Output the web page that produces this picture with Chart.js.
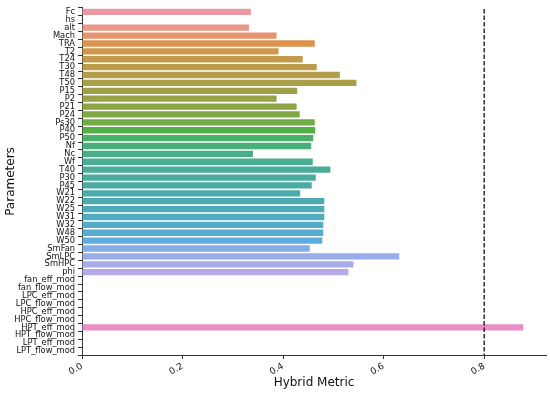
<!DOCTYPE html>
<html>
<head>
<meta charset="utf-8">
<script src="https://cdn.jsdelivr.net/npm/chart.js@4.4.1/dist/chart.umd.min.js"></script>
<style>
  html, body { margin: 0; padding: 0; background: #fff; }
</style>
</head>
<body>
<canvas id="chartBar" width="550" height="394"></canvas>
<script>
// parameter names (y categories)
var params = ['Fc', 'hs', 'alt', 'Mach', 'TRA', 'T2', 'T24', 'T30', 'T48', 'T50',
  'P15', 'P2', 'P21', 'P24', 'Ps30', 'P40', 'P50', 'Nf', 'Nc', 'Wf',
  'T40', 'P30', 'P45', 'W21', 'W22', 'W25', 'W31', 'W32', 'W48', 'W50',
  'SmFan', 'SmLPC', 'SmHPC', 'phi',
  'fan_eff_mod', 'fan_flow_mod', 'LPC_eff_mod', 'LPC_flow_mod', 'HPC_eff_mod', 'HPC_flow_mod',
  'HPT_eff_mod', 'HPT_flow_mod', 'LPT_eff_mod', 'LPT_flow_mod'];

// hybrid metric per parameter
var hybridMetric = [0.336, 0, 0.332, 0.387, 0.463, 0.391, 0.439, 0.467, 0.513, 0.546,
  0.428, 0.387, 0.427, 0.433, 0.463, 0.464, 0.460, 0.456, 0.340, 0.459,
  0.494, 0.465, 0.457, 0.434, 0.482, 0.482, 0.482, 0.480, 0.480, 0.478,
  0.453, 0.631, 0.540, 0.530,
  0, 0, 0, 0, 0, 0,
  0.878, 0, 0, 0];

var xTicks = [0.0, 0.2, 0.4, 0.6, 0.8];
var threshold = 0.8;
var xMax = 0.923;

// husl palette like seaborn (h=.01, s=.9, l=.7), then desaturated by .75
var M = [[3.2406, -1.5372, -0.4986], [-0.9689, 1.8758, 0.0415], [0.0557, -0.2040, 1.0570]];

function maxChroma(L, H) {
  var hrad = H / 360 * 2 * Math.PI;
  var sinH = Math.sin(hrad), cosH = Math.cos(hrad);
  var sub1 = Math.pow(L + 16, 3) / 1560896;
  var sub2 = sub1 > 0.008856 ? sub1 : L / 903.3;
  var result = Infinity;
  M.forEach(function (row) {
    var m1 = row[0], m2 = row[1], m3 = row[2];
    var top = (0.99915 * m1 + 1.05122 * m2 + 1.14460 * m3) * sub2;
    var rbottom = 0.86330 * m3 - 0.17266 * m2;
    var lbottom = 0.12949 * m3 - 0.38848 * m1;
    var bottom = (rbottom * sinH + lbottom * cosH) * sub2;
    [0, 1].forEach(function (t) {
      var C = L * (top - 1.05122 * t) / (bottom + 0.17266 * sinH * t);
      if (C > 0 && C < result) result = C;
    });
  });
  return result;
}

function huslToRgb(H, S, L) {
  var C = maxChroma(L, H) / 100 * S;
  var hrad = H / 360 * 2 * Math.PI;
  var U = Math.cos(hrad) * C, V = Math.sin(hrad) * C;
  var t = (L + 16) / 116;
  var varY = Math.pow(t, 3) > 0.008856 ? Math.pow(t, 3) : (116 * t - 16) / 903.3;
  var varU = U / (13 * L) + 0.19784;
  var varV = V / (13 * L) + 0.46834;
  var Y = varY;
  var X = 0 - (9 * Y * varU) / ((varU - 4) * varV - varU * varV);
  var Z = (9 * Y - 15 * varV * Y - varV * X) / (3 * varV);
  return M.map(function (row) {
    var c = row[0] * X + row[1] * Y + row[2] * Z;
    c = c <= 0.0031308 ? 12.92 * c : 1.055 * Math.pow(c, 1 / 2.4) - 0.055;
    return Math.min(1, Math.max(0, c));
  });
}

function barColors(n) {
  var out = [];
  for (var i = 0; i < n; i++) {
    var h = ((i / n + 0.01) % 1) * 359;
    var rgb = huslToRgb(h, 0.9 * 99, 0.7 * 99);
    var l = (Math.max.apply(null, rgb) + Math.min.apply(null, rgb)) / 2;
    rgb = rgb.map(function (c) { return Math.round((l + (c - l) * 0.75) * 255); });
    out.push('rgb(' + rgb.join(',') + ')');
  }
  return out;
}

// dashed threshold line
var thresholdLine = {
  id: 'thresholdLine',
  afterDatasetsDraw: function (chart) {
    var ctx = chart.ctx;
    var x = chart.scales.x.getPixelForValue(threshold);
    ctx.save();
    ctx.strokeStyle = '#111';
    ctx.lineWidth = 1.3;
    ctx.setLineDash([4.5, 2]);
    ctx.beginPath();
    ctx.moveTo(x, chart.chartArea.top + 1);
    ctx.lineTo(x, chart.chartArea.bottom);
    ctx.stroke();
    ctx.restore();
  }
};

Chart.defaults.font.family = 'DejaVu Sans';
Chart.defaults.color = '#111';

var configBar = {
  type: 'bar',
  data: {
    labels: params,
    datasets: [{
      data: hybridMetric,
      backgroundColor: barColors(params.length),
      borderWidth: 0,
      categoryPercentage: 0.8,
      barPercentage: 1.0
    }]
  },
  options: {
    indexAxis: 'y',
    responsive: false,
    animation: false,
    layout: { padding: { top: 3, right: 4, left: 0, bottom: 0 } },
    plugins: { legend: { display: false }, tooltip: { enabled: false } },
    scales: {
      x: {
        min: 0,
        max: xMax,
        afterBuildTicks: function (scale) {
          scale.ticks = xTicks.map(function (v) { return { value: v }; });
        },
        afterFit: function (scale) { scale.height = 39; },
        ticks: {
          minRotation: 30,
          maxRotation: 30,
          padding: 2,
          font: { size: 9 },
          callback: function (v) { return Number(v).toFixed(1); }
        },
        grid: { drawOnChartArea: false, drawTicks: true, tickLength: 4, color: '#333' },
        border: { display: true, color: '#333', width: 1 },
        title: { display: true, text: 'Hybrid Metric', font: { size: 12 }, color: '#111' }
      },
      y: {
        afterFit: function (scale) { scale.width = 82; },
        ticks: { autoSkip: false, padding: 3, font: { size: 8.3 } },
        grid: { drawOnChartArea: false, drawTicks: true, tickLength: 4, color: '#333' },
        border: { display: true, color: '#333', width: 1 },
        title: { display: true, text: 'Parameters', font: { size: 12 }, color: '#111' }
      }
    }
  },
  plugins: [thresholdLine]
};

var chartBar = new Chart(document.getElementById('chartBar'), configBar);
</script>
</body>
</html>
